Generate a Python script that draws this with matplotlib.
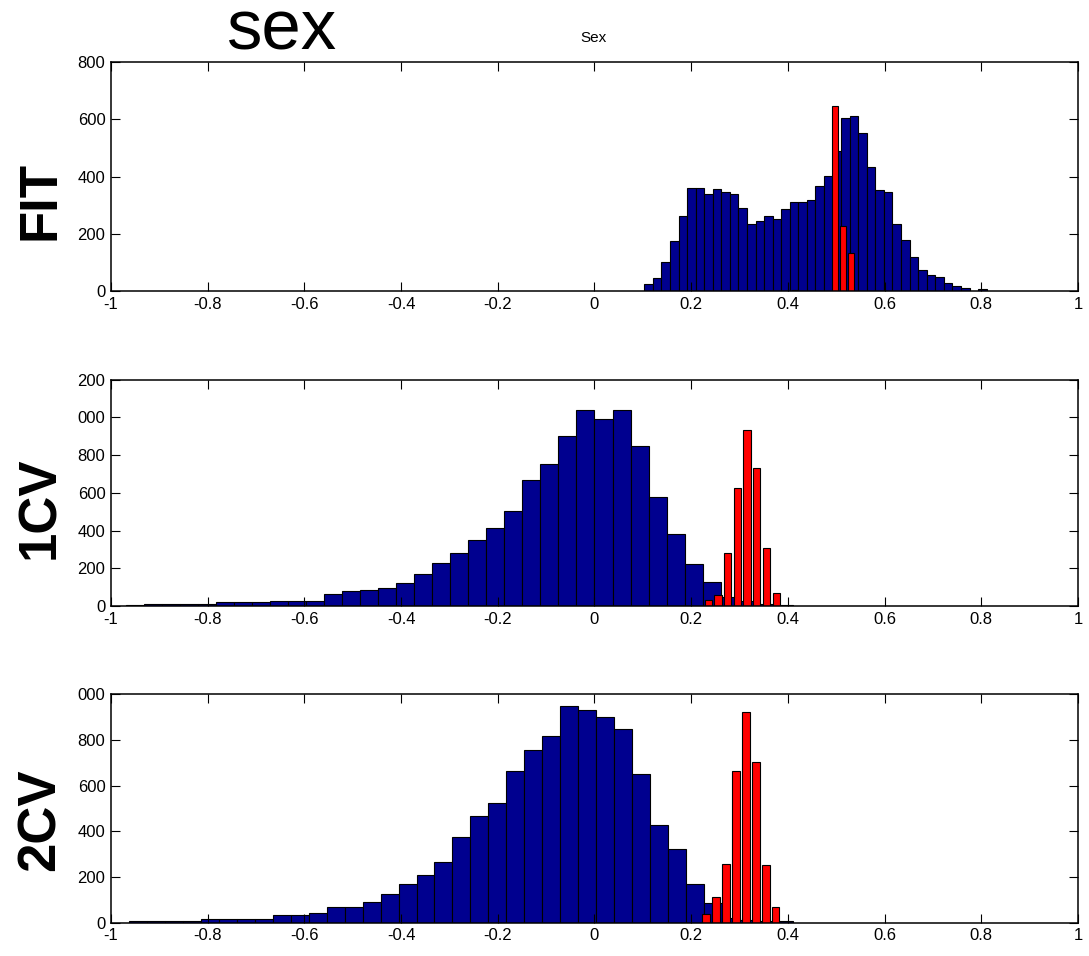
import numpy as np
import matplotlib
matplotlib.use("Agg")
import matplotlib.pyplot as plt

plt.rcParams['font.family'] = ['Liberation Sans', 'DejaVu Sans']

# blue histograms: first bin edge, bin width, counts
fit_lo, fit_w = 0.103, 0.0177
fit_counts = [25, 46, 100, 173, 262, 361, 361, 340, 356, 345, 340, 290, 235, 245,
              262, 251, 285, 312, 312, 319, 368, 401, 490, 606, 613, 551, 434, 352,
              346, 235, 179, 118, 74, 57, 50, 29, 19, 12, 0, 7]

cv1_lo, cv1_w = -0.969, 0.03727
cv1_counts = [7, 8, 8, 8, 8, 19, 19, 19, 28, 28, 28, 62, 79, 86, 94, 122, 171, 229,
              281, 349, 411, 506, 667, 750, 900, 1041, 993, 1041, 850, 580, 379, 222,
              129, 50, 26, 12, 7]

cv2_lo, cv2_w = -0.962, 0.03712
cv2_counts = [6, 6, 6, 6, 15, 15, 15, 15, 35, 35, 41, 71, 71, 90, 125, 169, 208, 265,
              374, 466, 526, 666, 755, 819, 950, 930, 902, 847, 651, 430, 325, 168,
              85, 22, 10, 6, 6]

# red histograms: first bin centre, spacing, counts
fit_red_c0, fit_red_d = 0.4145, 0.0165
fit_red = [5, 0, 0, 0, 0, 646, 227, 133]
cv1_red_c0, cv1_red_d = 0.2352, 0.0201
cv1_red = [34, 60, 279, 623, 931, 732, 310, 67]
cv2_red_c0, cv2_red_d = 0.2308, 0.0206
cv2_red = [39, 111, 255, 666, 921, 705, 251, 70]

row_names = ['FIT', '1CV', '2CV']
ytop = [800, 1200, 1000]
ylabels = [['0', '200', '400', '600', '800'],
           ['0', '200', '400', '600', '800', '000', '200'],
           ['0', '200', '400', '600', '800', '000']]
xticks = np.arange(-1, 1.01, 0.2)
xlabels = ['-1', '-0.8', '-0.6', '-0.4', '-0.2', '0', '0.2', '0.4', '0.6', '0.8', '1']

blue = '#00008F'
red = '#FF0000'

fig = plt.figure(figsize=(10.89, 9.56), dpi=100)
pos = [[0.1019, 0.6956, 0.8880, 0.2395],
       [0.1019, 0.3661, 0.8880, 0.2369],
       [0.1019, 0.0348, 0.8880, 0.2389]]
label_y = [0.790, 0.4686, 0.1423]

panels = [(fit_lo, fit_w, fit_counts, fit_red_c0, fit_red_d, fit_red),
          (cv1_lo, cv1_w, cv1_counts, cv1_red_c0, cv1_red_d, cv1_red),
          (cv2_lo, cv2_w, cv2_counts, cv2_red_c0, cv2_red_d, cv2_red)]

for i, (lo, w, cnt, c0, d, rc) in enumerate(panels):
    ax = fig.add_axes(pos[i])
    edges = lo + w * np.arange(len(cnt))
    ax.bar(edges, cnt, width=w, align='edge', color=blue, edgecolor='k', linewidth=0.8)
    rx = c0 + d * np.arange(len(rc))
    ax.bar(rx, rc, width=d * 0.74, color=red, edgecolor='k', linewidth=0.8)
    ax.set_xlim(-1, 1)
    ax.set_ylim(0, ytop[i])
    ax.set_xticks(xticks)
    ax.set_xticklabels(xlabels)
    yt = np.arange(0, ytop[i] + 1, 200)
    ax.set_yticks(yt)
    ax.set_yticklabels(ylabels[i])
    ax.tick_params(direction='in', length=6.5, width=0.8, labelsize=12,
                   top=True, right=True, pad=4)
    for s in ax.spines.values():
        s.set_linewidth(1.1)
    fig.text(0.037, label_y[i], row_names[i], rotation=90,
             ha='center', va='center', fontsize=38, fontweight='bold')

fig.text(0.259, 0.9477, 'sex', ha='center', va='baseline', fontsize=51)
fig.text(0.545, 0.960, 'Sex', ha='center', va='center', fontsize=11)

fig.savefig('out.png', dpi=100)
